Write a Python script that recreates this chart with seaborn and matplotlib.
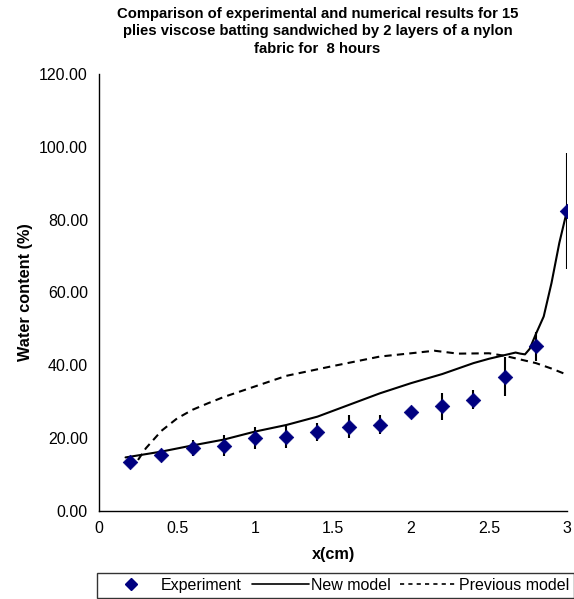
import numpy as np
import pandas as pd
import seaborn as sns
import matplotlib.pyplot as plt
from matplotlib.lines import Line2D

# experiment
exp_x = [0.2, 0.4, 0.6, 0.8, 1.0, 1.2, 1.4, 1.6, 1.8, 2.0, 2.2, 2.4, 2.6, 2.8, 3.0]
exp_y = [13.4, 15.3, 17.3, 17.9, 20.0, 20.2, 21.7, 23.1, 23.7, 27.2, 28.7, 30.6, 36.9, 45.2, 82.4]
exp_err = [1.0, 1.0, 2.3, 2.9, 3.0, 3.0, 2.4, 3.2, 2.7, 0.6, 3.6, 2.7, 5.3, 4.0, 16.0]

# new model (solid)
new_x = [0.17, 0.2, 0.4, 0.6, 0.8, 1.0, 1.2, 1.4, 1.6, 1.8, 2.0, 2.2, 2.4, 2.5, 2.6,
         2.67, 2.7, 2.73, 2.76, 2.8, 2.85, 2.9, 2.95, 3.0]
new_y = [14.7, 14.9, 16.3, 18.0, 19.6, 21.8, 23.6, 25.9, 29.1, 32.3, 35.1, 37.6, 40.6,
         41.8, 42.8, 43.5, 43.2, 43.0, 44.5, 48.6, 53.4, 62.6, 73.6, 82.6]

# previous model (dashed)
prev_x = [0.25, 0.3, 0.4, 0.5, 0.6, 0.7, 0.8, 1.0, 1.2, 1.5, 1.8, 2.0, 2.15, 2.3, 2.5,
          2.6, 2.7, 2.8, 2.9, 3.0]
prev_y = [14.0, 17.2, 22.0, 25.4, 27.8, 29.6, 31.3, 34.2, 37.1, 39.8, 42.4, 43.3, 44.0,
          43.2, 43.3, 42.6, 41.6, 40.6, 39.1, 37.4]

sns.set_style("white")
plt.rcParams['font.family'] = ['Liberation Sans', 'DejaVu Sans']
plt.rcParams['text.color'] = 'black'
plt.rcParams['axes.labelcolor'] = 'black'

fig = plt.figure(figsize=(5.74, 5.99), dpi=100)
ax = fig.add_axes([0.1725, 0.147, 0.8155, 0.7295])

dash = (0, (3.5, 2.5))
sns.lineplot(x=new_x, y=new_y, color="black", linewidth=1.5, ax=ax, sort=False)
sns.lineplot(x=prev_x, y=prev_y, color="black", linewidth=1.5, linestyle=dash,
             ax=ax, sort=False)
ax.errorbar(exp_x, exp_y, yerr=exp_err, fmt="none", ecolor="black", elinewidth=1.5, zorder=3)
sns.scatterplot(x=exp_x, y=exp_y, marker="D", color="#000080", s=55, edgecolor="#000080",
                linewidth=0.5, ax=ax, zorder=4)

ax.set_xlim(0, 3)
ax.set_ylim(0, 120)
ax.set_xticks([0, 0.5, 1, 1.5, 2, 2.5, 3])
ax.set_xticklabels(["0", "0.5", "1", "1.5", "2", "2.5", "3"])
ax.set_yticks(np.arange(0, 121, 20))
ax.set_yticklabels([f"{v:.2f}" for v in np.arange(0, 121, 20)])
ax.tick_params(direction="in", length=5, width=1, labelsize=11.5, colors="black")
ax.tick_params(axis="y", pad=8)
ax.tick_params(axis="x", pad=7)
for side in ["top", "right"]:
    ax.spines[side].set_visible(False)
for side in ["left", "bottom"]:
    ax.spines[side].set_color("black")
    ax.spines[side].set_linewidth(1)

ax.set_xlabel("x(cm)", fontsize=11.7, fontweight="bold", labelpad=8)
ax.set_ylabel("Water content (%)", fontsize=11.7, fontweight="bold", labelpad=4)
fig.text(0.553, 0.988,
         "Comparison of experimental and numerical results for 15\n"
         "plies viscose batting sandwiched by 2 layers of a nylon\n"
         "fabric for  8 hours",
         ha="center", va="top", fontsize=10.7, fontweight="bold", linespacing=1.3)

handles = [
    Line2D([], [], marker="D", color="#000080", linestyle="none", markersize=6),
    Line2D([], [], color="black", linewidth=1.2),
    Line2D([], [], color="black", linewidth=1.2, linestyle=(0, (2.5, 2.5))),
]
leg = fig.legend(handles, ["Experiment", "New model", "Previous model"], ncol=3,
                 loc="upper center", bbox_to_anchor=(0.585, 0.0434), fontsize=11.5,
                 frameon=True, fancybox=False, handlelength=3.6, columnspacing=0.6,
                 handletextpad=0.1, borderpad=0.3, borderaxespad=0)
leg.get_frame().set_edgecolor("black")
leg.get_frame().set_linewidth(1)

fig.savefig("out.png", dpi=100)
